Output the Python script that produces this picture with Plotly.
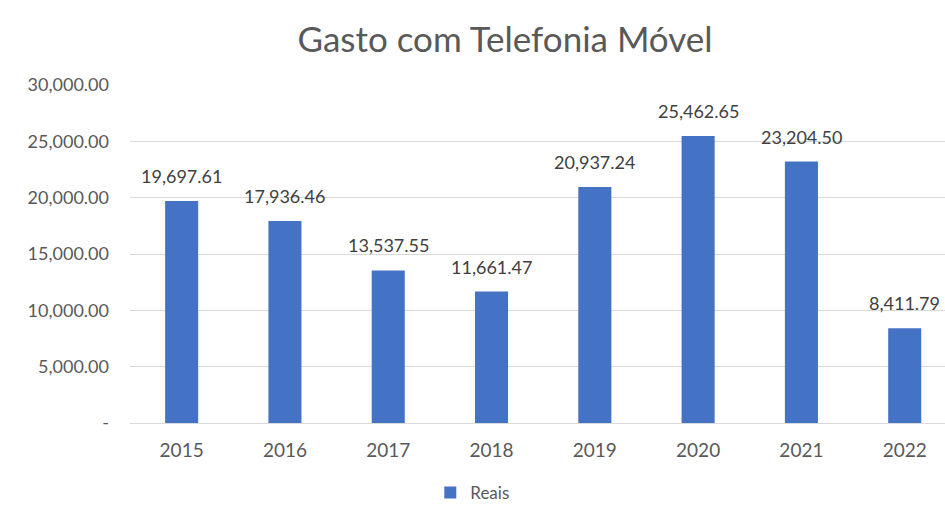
import plotly.graph_objects as go

anos = ["2015", "2016", "2017", "2018", "2019", "2020", "2021", "2022"]
reais = [19697.61, 17936.46, 13537.55, 11661.47, 20937.24, 25462.65, 23204.50, 8411.79]
y_ticks = [0, 5000, 10000, 15000, 20000, 25000, 30000]
y_tick_text = ["-", "5,000.00", "10,000.00", "15,000.00", "20,000.00", "25,000.00", "30,000.00"]

FONT = "Lato, 'Open Sans', sans-serif"
AXIS_GRAY = "#595959"

fig = go.Figure()
fig.add_trace(go.Bar(
    x=anos, y=reais, name="Reais",
    marker=dict(color="#4472C4", line=dict(width=0)),
    showlegend=True,
))

# value labels above each bar (index position on the category axis)
for i, v in enumerate(reais):
    fig.add_annotation(
        x=i, y=v, xref="x", yref="y", text=f"{v:,.2f}", showarrow=False,
        yanchor="middle", yshift=25,
        font=dict(family=FONT, size=18, color="#404040"),
    )

fig.update_layout(
    width=945, height=511,
    margin=dict(l=130, r=0, t=85, b=88),
    paper_bgcolor="white", plot_bgcolor="white",
    bargap=0.68,
    title=dict(
        text="Gasto com Telefonia Móvel",
        xref="container", x=505 / 945, xanchor="center",
        yref="container", y=1 - 40 / 511, yanchor="middle",
        font=dict(family=FONT, size=35, color=AXIS_GRAY),
    ),
    legend=dict(
        orientation="h", x=0.42, xanchor="center", y=-0.207, yanchor="middle",
        font=dict(family=FONT, size=17, color=AXIS_GRAY),
        itemwidth=30,
    ),
    xaxis=dict(
        type="category",
        range=[-0.5, 7.39],
        showgrid=False, zeroline=False,
        showline=True, linecolor="#d9d9d9", linewidth=1,
        ticks="outside", ticklen=10, tickcolor="rgba(0,0,0,0)",
        tickfont=dict(family=FONT, size=19, color=AXIS_GRAY),
    ),
    yaxis=dict(
        range=[0, 30000],
        tickvals=y_ticks, ticktext=y_tick_text,
        showgrid=True, gridcolor="#d9d9d9", gridwidth=1,
        zeroline=False, showline=False,
        ticklabelstandoff=20,
        tickfont=dict(family=FONT, size=18, color=AXIS_GRAY),
    ),
)

fig.write_html("out.html")
